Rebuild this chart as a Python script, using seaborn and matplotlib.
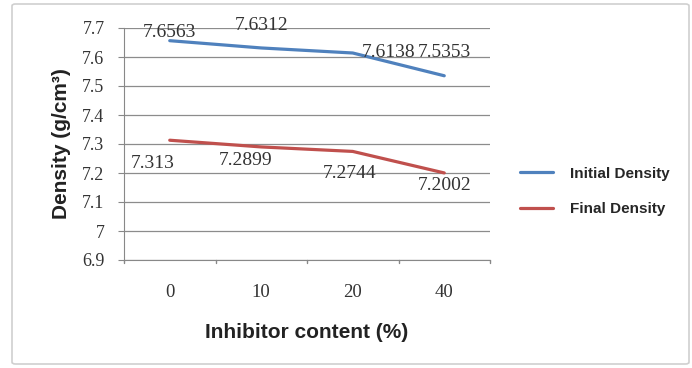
import matplotlib
matplotlib.use("Agg")
import matplotlib.pyplot as plt
import seaborn as sns
import pandas as pd
from matplotlib.patches import FancyBboxPatch
from matplotlib.lines import Line2D

categories = ["0", "10", "20", "40"]
initial_density = [7.6563, 7.6312, 7.6138, 7.5353]
final_density = [7.313, 7.2899, 7.2744, 7.2002]
series_names = ["Initial Density", "Final Density"]
y_ticks = [6.9, 7.0, 7.1, 7.2, 7.3, 7.4, 7.5, 7.6, 7.7]
y_tick_labels = ["6.9", "7", "7.1", "7.2", "7.3", "7.4", "7.5", "7.6", "7.7"]

sns.set_style("white")
plt.rcParams["font.family"] = ["Liberation Sans", "DejaVu Sans"]

pos = list(range(len(categories)))
df = pd.DataFrame({
    "pos": pos * 2,
    "density": initial_density + final_density,
    "series": [series_names[0]] * len(pos) + [series_names[1]] * len(pos),
})

fig = plt.figure(figsize=(6.92, 3.68), dpi=100)
fig.patch.set_facecolor("white")
border = FancyBboxPatch((12 / 692, 4 / 368), 677 / 692, 360 / 368,
                        boxstyle="round,pad=0,rounding_size=0.005",
                        transform=fig.transFigure, fill=False,
                        edgecolor="#d0d0d0", linewidth=1.2)
fig.patches.append(border)

ax = fig.add_axes([124 / 692, 108 / 368, 366 / 692, 232 / 368])
palette = {series_names[0]: "#4F81BD", series_names[1]: "#C0504D"}
sns.lineplot(data=df, x="pos", y="density", hue="series", palette=palette,
             linewidth=2.3, ax=ax, legend=False)

serif = "Liberation Serif"
txt_col = "#333333"
ax.set_xlim(-0.5, len(categories) - 0.5)
ax.set_ylim(6.9, 7.7)
ax.set_yticks(y_ticks)
ax.set_yticklabels(y_tick_labels, fontfamily=serif, fontsize=13, color=txt_col)
ax.set_xticks(pos)
ax.set_xticklabels(categories, fontfamily=serif, fontsize=13.5, color=txt_col)
ax.tick_params(axis="x", length=0, pad=17)
ax.tick_params(axis="y", length=4, color="#888888", direction="out", left=True, pad=10)
for b in [p - 0.5 for p in pos] + [len(pos) - 0.5]:
    ax.plot([b, b], [6.9, 6.9 - 0.012], color="#888888", lw=1, clip_on=False)

ax.grid(axis="y", color="#8c8c8c", linewidth=0.9)
ax.grid(axis="x", visible=False)
for s in ["top", "right"]:
    ax.spines[s].set_visible(False)
ax.spines["left"].set_color("#888888")
ax.spines["bottom"].set_color("#888888")

ax.set_xlabel("Inhibitor content (%)", fontsize=15, fontweight="bold", labelpad=16, color="#222222")
ax.set_ylabel("Density (g/cm³)", fontsize=15, fontweight="bold", labelpad=8, color="#222222")

# data labels (offsets in points)
init_offsets = [(0, 6), (0, 16.5), (26, 0.7), (0, 17)]
final_offsets = [(-12, -16.5), (-11, -9.7), (-2, -15.8), (0, -9)]
for i, v in enumerate(initial_density):
    ax.annotate(f"{v:g}", (pos[i], v), xytext=init_offsets[i], textcoords="offset points",
                ha="center", va="center", fontfamily=serif, fontsize=14, color=txt_col)
for i, v in enumerate(final_density):
    ax.annotate(f"{v:g}", (pos[i], v), xytext=final_offsets[i], textcoords="offset points",
                ha="center", va="center", fontfamily=serif, fontsize=14, color=txt_col)

handles = [Line2D([], [], color=palette[n], lw=2.3) for n in series_names]
fig.legend(handles, series_names, loc="center left", bbox_to_anchor=(520 / 692, 1 - 191.5 / 368),
           frameon=False, handlelength=2.15, handletextpad=1.1, labelspacing=1.4,
           borderpad=0, borderaxespad=0,
           prop={"family": "Liberation Sans", "weight": "bold", "size": 11})

fig.savefig("out.png", dpi=100)
